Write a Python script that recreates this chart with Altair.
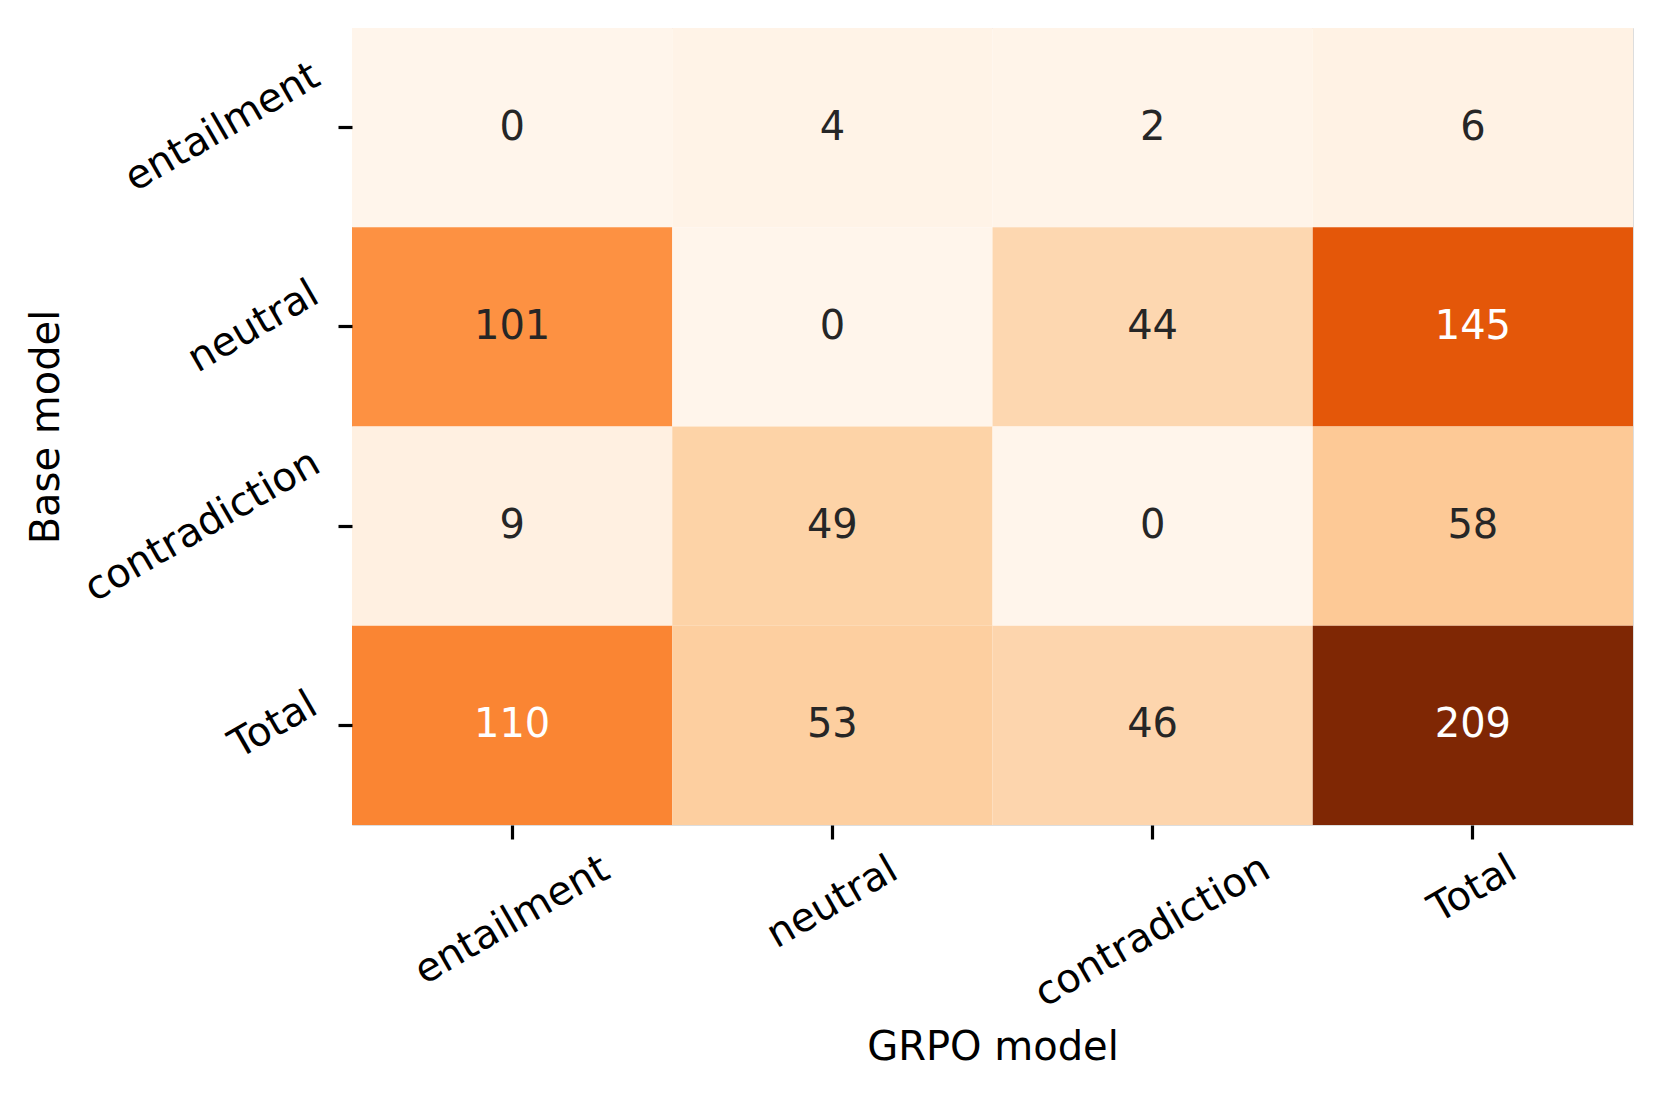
import altair as alt
import pandas as pd

# ---- data ----
base_labels = ["entailment", "neutral", "contradiction", "Total"]   # rows (Base model)
grpo_labels = ["entailment", "neutral", "contradiction", "Total"]   # columns (GRPO model)
counts = [
    [0, 4, 2, 6],
    [101, 0, 44, 145],
    [9, 49, 0, 58],
    [110, 53, 46, 209],
]

records = []
for i, b in enumerate(base_labels):
    for j, g in enumerate(grpo_labels):
        records.append({"base": b, "grpo": g, "count": counts[i][j]})
df = pd.DataFrame(records)

vmin, vmax = 0, 209
oranges = ["#fff5eb", "#fee6ce", "#fdd0a2", "#fdae6b", "#fd8d3c",
           "#f16913", "#d94801", "#a63603", "#7f2704"]
stops = [vmin + (vmax - vmin) * k / (len(oranges) - 1) for k in range(len(oranges))]

FONT = "DejaVu Sans"
FS = 40

# per-label offsets reproducing matplotlib's rotated-bbox alignment
x_pad = {"entailment": 81, "neutral": 63, "contradiction": 92, "Total": 50}
y_pad = {"entailment": 116, "neutral": 85, "contradiction": 136, "Total": 65}


def cond_pad(d):
    keys = list(d.keys())
    return {
        "condition": [{"test": f"datum.value === '{k}'", "value": d[k]} for k in keys[:-1]],
        "value": d[keys[-1]],
    }


W, H = 1281, 797

x_enc = alt.X(
    "grpo:N",
    sort=grpo_labels,
    scale=alt.Scale(paddingInner=0, paddingOuter=0),
    axis=alt.Axis(
        title="GRPO model",
        orient="bottom",
        domain=False,
        ticks=True,
        tickSize=14,
        tickWidth=3.2,
        tickColor="#000000",
        labelAngle=-30,
        labelAlign="center",
        labelBaseline="middle",
        labelPadding=cond_pad(x_pad),
        labelFont=FONT,
        labelFontSize=FS,
        labelColor="#000000",
        labelLimit=1000,
        labelOverlap=False,
        titleFont=FONT,
        titleFontSize=FS,
        titleFontWeight="normal",
        titleColor="#000000",
        titleX=W / 2,
        titleY=222,
        titleBaseline="middle",
        titleAlign="center",
    ),
)

y_enc = alt.Y(
    "base:N",
    sort=base_labels,
    scale=alt.Scale(paddingInner=0, paddingOuter=0),
    axis=alt.Axis(
        title="Base model",
        orient="left",
        domain=False,
        ticks=True,
        tickSize=14,
        tickWidth=3.2,
        tickColor="#000000",
        labelAngle=-30,
        labelAlign="center",
        labelBaseline="middle",
        labelPadding=cond_pad(y_pad),
        labelFont=FONT,
        labelFontSize=FS,
        labelColor="#000000",
        labelLimit=1000,
        labelOverlap=False,
        titleFont=FONT,
        titleFontSize=FS,
        titleFontWeight="normal",
        titleColor="#000000",
        titleAngle=-90,
        titleX=-306,
        titleY=H / 2,
        titleBaseline="middle",
        titleAlign="center",
    ),
)

base = alt.Chart(df).encode(x=x_enc, y=y_enc)

heat = base.mark_rect(strokeWidth=0).encode(
    color=alt.Color(
        "count:Q",
        scale=alt.Scale(domain=stops, range=oranges, interpolate="rgb"),
        legend=None,
    )
)

labels = base.mark_text(font=FONT, fontSize=FS, baseline="middle", align="center").encode(
    text=alt.Text("count:Q"),
    color=alt.condition("datum.count > 105", alt.value("#ffffff"), alt.value("#262626")),
)

chart = (
    alt.layer(heat, labels)
    .properties(
        width=W,
        height=H,
        autosize=alt.AutoSizeParams(type="none"),
        padding={"left": 344, "top": 20, "right": 20, "bottom": 250},
    )
    .configure_view(strokeWidth=0)
    .configure(background="#ffffff")
)

chart.save("out.html", embed_options={"renderer": "svg", "actions": False})
